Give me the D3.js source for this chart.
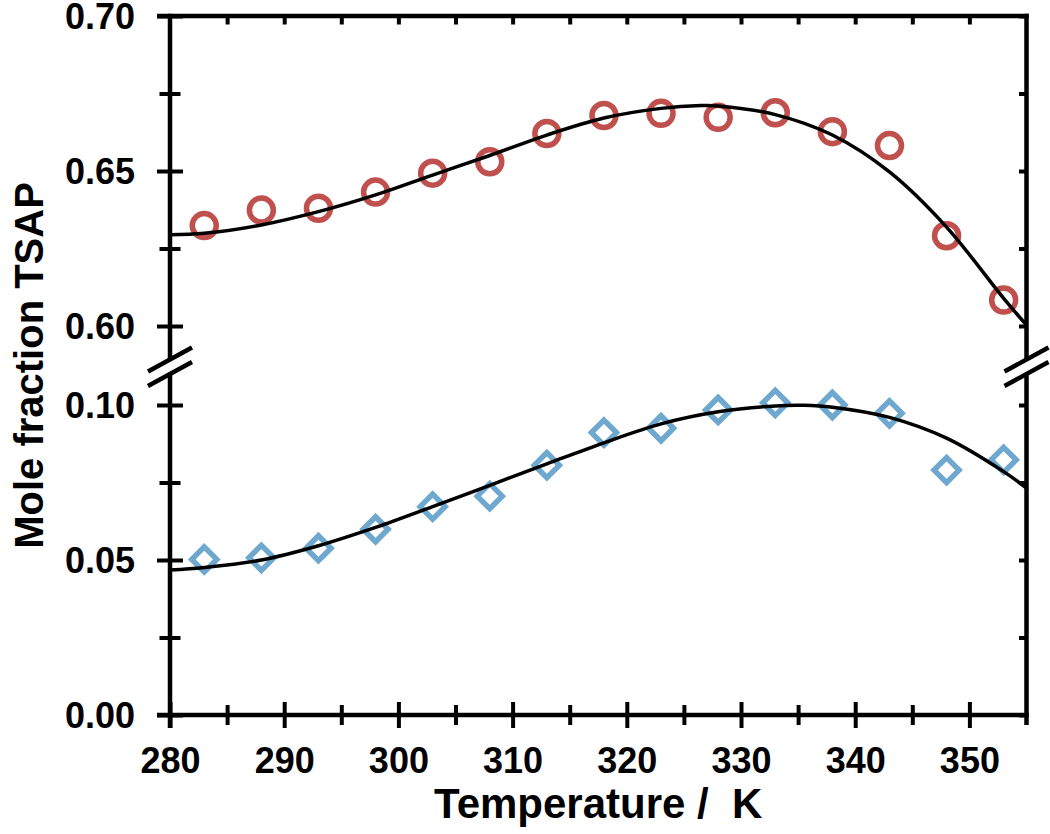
<!DOCTYPE html>
<html>
<head>
<meta charset="utf-8">
<script src="https://cdn.jsdelivr.net/npm/d3@7"></script>
<style>
  html, body { margin: 0; padding: 0; background: #fff; }
  svg { display: block; }
  text { font-family: "Liberation Sans", Arial, sans-serif; font-weight: bold; fill: #000; }
</style>
</head>
<body>
<svg id="chart" width="1050" height="834"></svg>
<script>
// ---------- data ----------
const temperatures = [283, 288, 293, 298, 303, 308, 313, 318, 323, 328, 333, 338, 343, 348, 353];
const upperValues  = [0.6324, 0.6374, 0.6380, 0.6432, 0.6493, 0.6530, 0.6621, 0.6679, 0.6686, 0.6673, 0.6688, 0.6627, 0.6582, 0.6291, 0.6084];
const lowerValues  = [0.0502, 0.0507, 0.0538, 0.0599, 0.0672, 0.0706, 0.0806, 0.0911, 0.0925, 0.0984, 0.1007, 0.1000, 0.0973, 0.0790, 0.0823];

const upperFitT = [280, 283, 288, 293, 298, 303, 308, 313, 318, 323, 326.5, 328, 333, 338, 343, 348, 353, 355];
const upperFitV = [0.6294, 0.6299, 0.6326, 0.6369, 0.6423, 0.6487, 0.6550, 0.6616, 0.6671, 0.6702, 0.6711, 0.6710, 0.6682, 0.6616, 0.6497, 0.6319, 0.6089, 0.6003];
const lowerFitT = [280, 283, 288, 293, 298, 303, 308, 313, 318, 323, 328, 333, 335.5, 338, 343, 348, 353, 355];
const lowerFitV = [0.0468, 0.0476, 0.0500, 0.0546, 0.0605, 0.0672, 0.0741, 0.0810, 0.0878, 0.0939, 0.0978, 0.0997, 0.0999, 0.0993, 0.0960, 0.0893, 0.0785, 0.0732];

const xMajorTicks = [280, 290, 300, 310, 320, 330, 340, 350];
const xMinorTicks = [285, 295, 305, 315, 325, 335, 345, 355];
const upperMajorTicks = [0.60, 0.65, 0.70];
const upperMinorTicks = [0.625, 0.675];
const lowerMajorTicks = [0.00, 0.05, 0.10];
const lowerMinorTicks = [0.025, 0.075];

const xTitle = "Temperature /  K";
const yTitle = "Mole fraction TSAP";

// ---------- scales ----------
const x = d3.scaleLinear().domain([280, 355]).range([170, 1026.5]);
const yHigh = d3.scaleLinear().domain([0.60, 0.70]).range([326, 16]);
const yLow = d3.scaleLinear().domain([0.00, 0.10]).range([715, 405]);

const svg = d3.select("#chart");
const AX = 4.5, TK = 4;
const pLeft = x(280), pRight = x(355), pTop = yHigh(0.70), pBottom = yLow(0);
const breakY = (yHigh(0.60) + yLow(0.10)) / 2; // ~365.5
const gapTop = breakY - 6, gapBot = breakY + 8.5;

// ---------- markers ----------
svg.append("g").selectAll("circle").data(temperatures).join("circle")
  .attr("cx", (d) => x(d)).attr("cy", (d, i) => yHigh(upperValues[i]))
  .attr("r", 12).attr("fill", "none").attr("stroke", "#C0504D").attr("stroke-width", 5.5);

const diamond = (s) => `M0,${-s}L${s},0L0,${s}L${-s},0Z`;
svg.append("g").selectAll("path").data(temperatures).join("path")
  .attr("transform", (d, i) => `translate(${x(d)},${yLow(lowerValues[i])})`)
  .attr("d", diamond(12.5)).attr("fill", "none").attr("stroke", "#6EA8CE")
  .attr("stroke-width", 5.5).attr("stroke-linejoin", "miter");

// ---------- fit curves ----------
const lineHigh = d3.line().x((d) => x(d[0])).y((d) => yHigh(d[1])).curve(d3.curveCatmullRom.alpha(0.5));
const lineLow = d3.line().x((d) => x(d[0])).y((d) => yLow(d[1])).curve(d3.curveCatmullRom.alpha(0.5));
svg.append("path").datum(upperFitT.map((t, i) => [t, upperFitV[i]]))
  .attr("d", lineHigh).attr("fill", "none").attr("stroke", "#000").attr("stroke-width", 3.5);
svg.append("path").datum(lowerFitT.map((t, i) => [t, lowerFitV[i]]))
  .attr("d", lineLow).attr("fill", "none").attr("stroke", "#000").attr("stroke-width", 3.5);

// ---------- axes ----------
function styleAxis(g, labels) {
  g.select(".domain").remove();
  g.selectAll(".tick line").attr("stroke", "#000").attr("stroke-width", TK);
  if (!labels) g.selectAll(".tick text").remove();
}

// bottom axis: major ticks crossing (±13), labels
svg.append("g").attr("transform", `translate(0,${pBottom - 13})`)
  .call(d3.axisBottom(x).tickValues(xMajorTicks).tickSize(26).tickPadding(19).tickFormat(d3.format("d")))
  .call((g) => styleAxis(g, true))
  .call((g) => g.selectAll(".tick text").attr("font-size", 36).attr("dy", "0.71em"));
// bottom minor ticks (±10)
svg.append("g").attr("transform", `translate(0,${pBottom - 10})`)
  .call(d3.axisBottom(x).tickValues(xMinorTicks.filter((d) => d < 355)).tickSize(20))
  .call((g) => styleAxis(g, false));
// top ticks (inward)
svg.append("g").attr("transform", `translate(0,${pTop})`)
  .call(d3.axisBottom(x).tickValues(xMajorTicks.concat(xMinorTicks).filter((d) => d > 280 && d < 355)).tickSize(8.5))
  .call((g) => styleAxis(g, false));

// left axes
function leftAxis(scale, majors, minors) {
  svg.append("g").attr("transform", `translate(${pLeft + 13},0)`)
    .call(d3.axisLeft(scale).tickValues(majors).tickSize(26).tickPadding(22).tickFormat(d3.format(".2f")))
    .call((g) => styleAxis(g, true))
    .call((g) => g.selectAll(".tick text").attr("font-size", 36).attr("dy", "0.36em"));
  svg.append("g").attr("transform", `translate(${pLeft + 10.5},0)`)
    .call(d3.axisLeft(scale).tickValues(minors).tickSize(21))
    .call((g) => styleAxis(g, false));
  svg.append("g").attr("transform", `translate(${pRight},0)`)
    .call(d3.axisLeft(scale).tickValues(majors.concat(minors)).tickSize(7.5))
    .call((g) => styleAxis(g, false));
}
leftAxis(yHigh, upperMajorTicks, upperMinorTicks);
leftAxis(yLow, lowerMajorTicks, lowerMinorTicks);

// frame lines
const frame = svg.append("g").attr("stroke", "#000").attr("stroke-width", AX).attr("fill", "none");
frame.append("line").attr("x1", pLeft - 13).attr("x2", pRight + AX / 2).attr("y1", pTop).attr("y2", pTop);
frame.append("line").attr("x1", pLeft - 13).attr("x2", pRight + AX / 2).attr("y1", pBottom).attr("y2", pBottom);
[[pLeft, pBottom + 13], [pRight, pBottom + 10]].forEach(([xx, yb]) => {
  frame.append("line").attr("x1", xx).attr("x2", xx).attr("y1", pTop - AX / 2).attr("y2", gapTop);
  frame.append("line").attr("x1", xx).attr("x2", xx).attr("y1", gapBot).attr("y2", yb);
  // break marks
  [gapTop, gapBot].forEach((cy) => {
    frame.append("line").attr("x1", xx - 22).attr("y1", cy + 12).attr("x2", xx + 22).attr("y2", cy - 12);
  });
});

// ---------- titles ----------
svg.append("text").attr("x", (pLeft + pRight) / 2).attr("y", 818)
  .attr("text-anchor", "middle").attr("font-size", 42).style("white-space", "pre").text(xTitle);
svg.append("text").attr("transform", `translate(43,${(pTop + pBottom) / 2}) rotate(-90)`)
  .attr("text-anchor", "middle").attr("font-size", 40).text(yTitle);
</script>
</body>
</html>
